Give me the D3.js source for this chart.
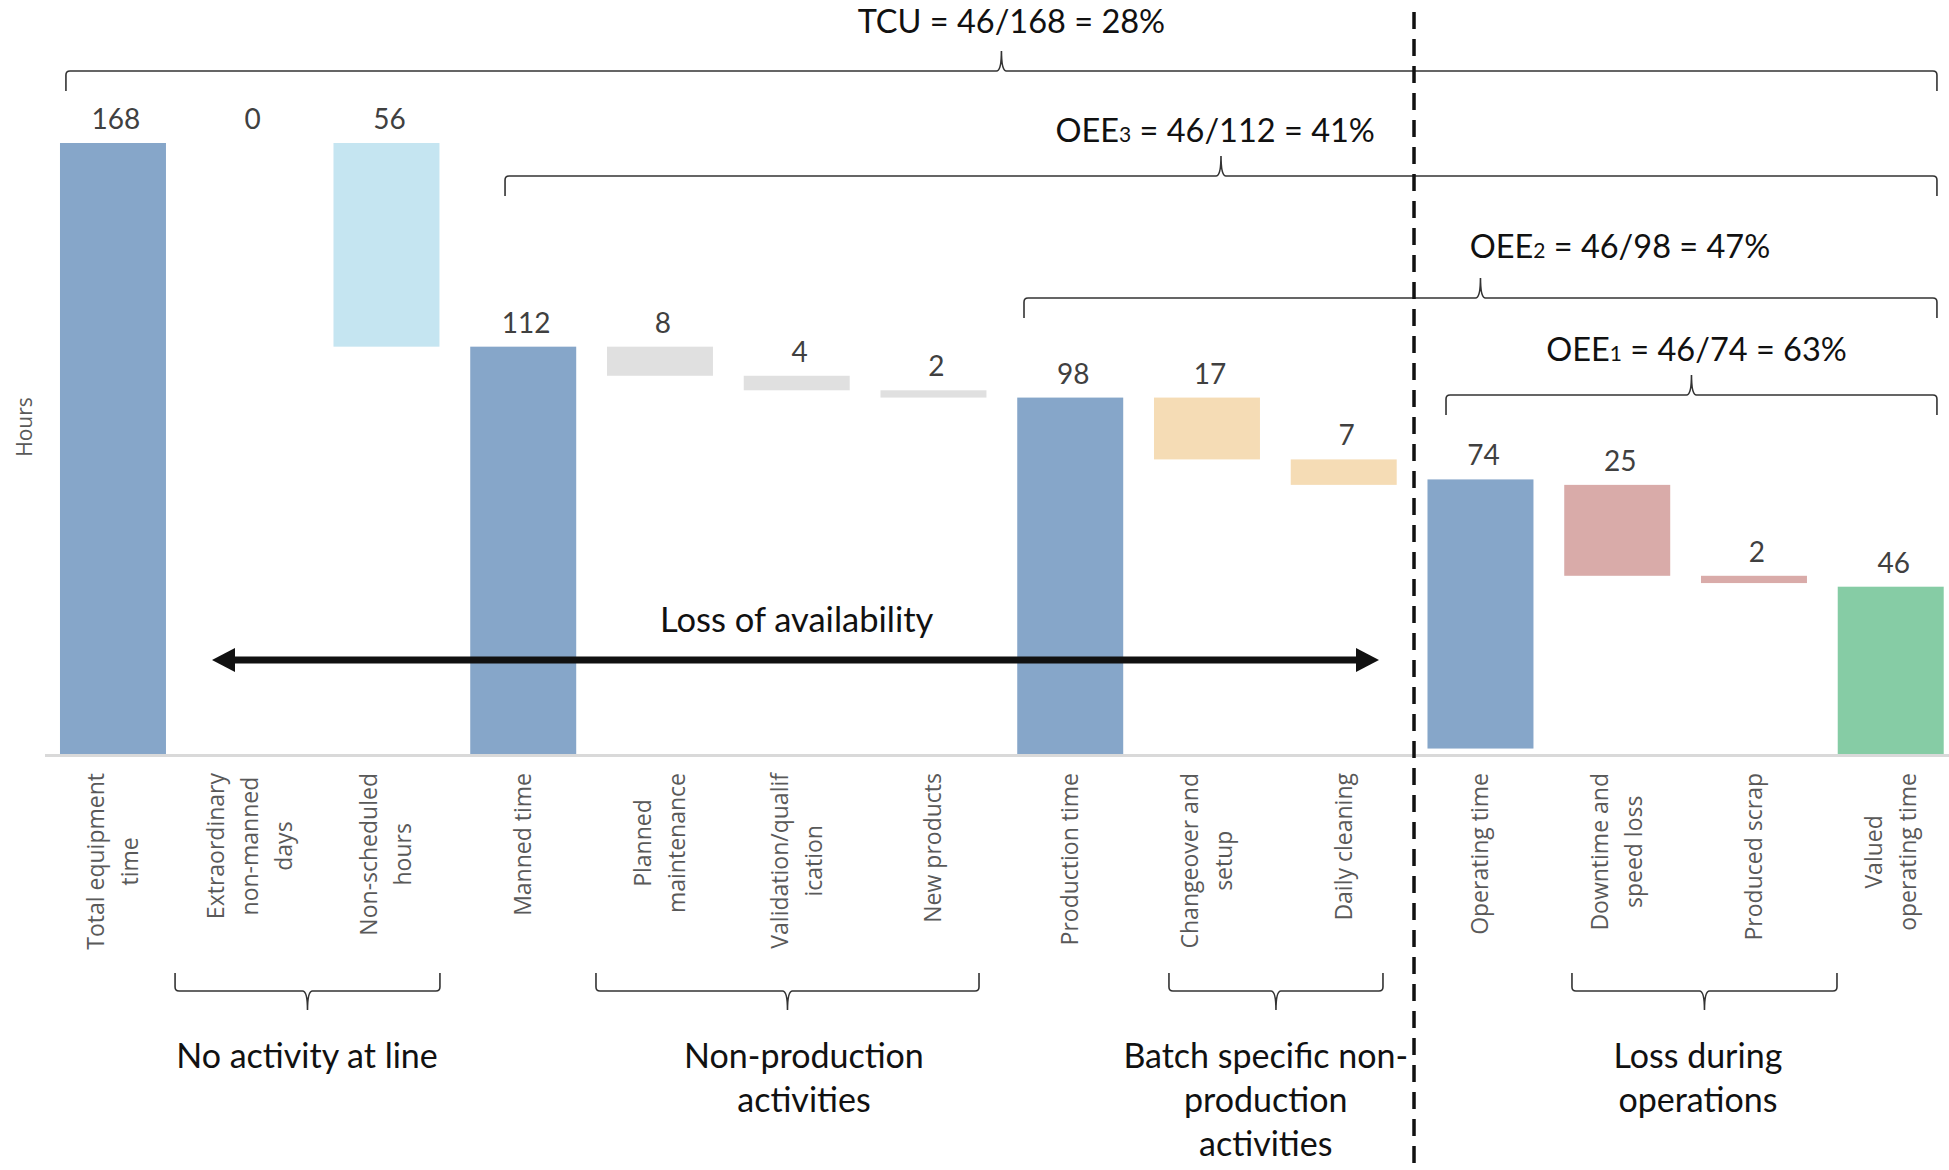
<!DOCTYPE html>
<html>
<head>
<meta charset="utf-8">
<script src="https://cdn.jsdelivr.net/npm/d3@7"></script>
<style>
  body { margin: 0; background: #fff; }
  svg { display: block; }
</style>
</head>
<body>
<svg id="chart" width="1949" height="1170"></svg>
<script>
// ---- data ----
const categories = [
  "Total equipment time", "Extraordinary non-manned days", "Non-scheduled hours",
  "Manned time", "Planned maintenance", "Validation/qualification", "New products",
  "Production time", "Changeover and setup", "Daily cleaning",
  "Operating time", "Downtime and speed loss", "Produced scrap", "Valued operating time"
];
const tickLabels = [
  ["Total equipment", "time"], ["Extraordinary", "non-manned", "days"], ["Non-scheduled", "hours"],
  ["Manned time"], ["Planned", "maintenance"], ["Validation/qualif", "ication"], ["New products"],
  ["Production time"], ["Changeover and", "setup"], ["Daily cleaning"],
  ["Operating time"], ["Downtime and", "speed loss"], ["Produced scrap"], ["Valued", "operating time"]
];
const values = [168, 0, 56, 112, 8, 4, 2, 98, 17, 7, 74, 25, 2, 46];
const barKind = ["total", "loss", "loss", "total", "loss", "loss", "loss", "total", "loss", "loss", "total", "loss", "loss", "total"];
const groups = ["total", "idle", "idle", "total", "nonprod", "nonprod", "nonprod", "total", "batch", "batch", "total", "ops", "ops", "valued"];
// operating time bar sits slightly above the axis in the original
const barBase = [0, 0, 0, 0, 0, 0, 0, 0, 0, 0, 1.5, 0, 0, 0];

const titleMain = ["TCU", "OEE", "OEE", "OEE"];
const titleSub = ["", "3", "2", "1"];
const titleRest = [" = 46/168 = 28%", " = 46/112 = 41%", " = 46/98 = 47%", " = 46/74 = 63%"];

const groupLabels = [
  ["No activity at line"],
  ["Non-production", "activities"],
  ["Batch specific non-", "production", "activities"],
  ["Loss during", "operations"]
];
const arrowLabel = "Loss of availability";
const yTitle = "Hours";

// ---- layout ----
const W = 1949, H = 1170;
const svg = d3.select("#chart");
svg.append("rect").attr("width", W).attr("height", H).attr("fill", "#fff");

const x = d3.scaleBand().domain(categories).range([44.6, 1959.1]).paddingInner(0.225).paddingOuter(0.1125);
// position in "category units" (category i spans [i, i+1])
const pos = d3.scaleLinear().domain([0, 14]).range([44.6, 1959.1]);
const y = d3.scaleLinear().domain([0, 168]).range([754, 143]);

const color = d3.scaleOrdinal()
  .domain(["total", "idle", "nonprod", "batch", "ops", "valued"])
  .range(["#86a6c9", "#c5e5f1", "#e0e0e0", "#f5dcb5", "#d9aba9", "#86cca5"]);

// waterfall
let running = 0;
const bars = categories.map((c, i) => {
  let lo, hi;
  if (barKind[i] === "total") {
    lo = barBase[i]; hi = values[i] + barBase[i]; running = values[i];
  } else {
    hi = running; lo = running - values[i]; running = lo;
  }
  return { cat: c, i, lo, hi, value: values[i], group: groups[i] };
});

const calibri = "Lato, 'Open Sans', sans-serif";
const segoe = "'Open Sans', 'DejaVu Sans', sans-serif";

// axis line
svg.append("line")
  .attr("x1", 45).attr("x2", W).attr("y1", 755.5).attr("y2", 755.5)
  .attr("stroke", "#d9d9d9").attr("stroke-width", 3);

svg.append("g").selectAll("rect").data(bars.filter(d => d.value > 0)).join("rect")
  .attr("x", d => x(d.cat))
  .attr("width", x.bandwidth())
  .attr("y", d => y(d.hi))
  .attr("height", d => y(d.lo) - y(d.hi))
  .attr("fill", d => color(d.group));

svg.append("g").selectAll("text").data(bars).join("text")
  .attr("x", d => x(d.cat) + x.bandwidth() / 2 + 3)
  .attr("y", d => y(d.hi) - 14)
  .attr("text-anchor", "middle")
  .attr("font-family", calibri)
  .attr("font-size", 28)
  .attr("fill", "#404040")
  .text(d => d.value);

// category labels, rotated
const tickTop = 773, lineGap = 34;
categories.forEach((c, i) => {
  const lines = tickLabels[i];
  const cx = x(c) + x.bandwidth() / 2;
  const g = svg.append("g");
  const texts = lines.map((ln, j) => g.append("text")
    .attr("font-family", segoe).attr("font-size", 23).attr("fill", "#595959")
    .attr("text-anchor", "middle").text(ln));
  const maxLen = d3.max(texts, t => t.node().getComputedTextLength());
  const cy = tickTop + maxLen / 2;
  texts.forEach((t, j) => {
    const lx = cx + (j - (lines.length - 1) / 2) * lineGap;
    t.attr("transform", `translate(${lx + 8},${cy}) rotate(-90)`);
  });
});

// y axis title
svg.append("text")
  .attr("transform", "translate(32,427) rotate(-90)")
  .attr("text-anchor", "middle")
  .attr("font-family", segoe).attr("font-size", 21).attr("fill", "#595959")
  .text(yTitle);

// braces
function bracePath(x1, x2, yLine, yEnd, yTip) {
  const xm = (x1 + x2) / 2, r = 5;
  const d1 = Math.sign(yEnd - yLine);
  return `M${x1},${yEnd} L${x1},${yLine + d1 * 4} Q${x1},${yLine} ${x1 + 4},${yLine}` +
    ` L${xm - r},${yLine} Q${xm},${yLine} ${xm},${yTip}` +
    ` Q${xm},${yLine} ${xm + r},${yLine} L${x2 - 4},${yLine} Q${x2},${yLine} ${x2},${yLine + d1 * 4} L${x2},${yEnd}`;
}
const braceG = svg.append("g").attr("fill", "none").attr("stroke", "#333").attr("stroke-width", 1.6);

// top braces: [start, end] in category units, line y
const topBraces = [[0.156, 13.838, 71], [3.367, 13.838, 176], [7.162, 13.838, 298], [10.248, 13.838, 395]];
topBraces.forEach(([a, b, ly]) => {
  braceG.append("path").attr("d", bracePath(pos(a), pos(b), ly, ly + 20, ly - 20));
});
const titleX = [7.07, 8.56, 11.52, 12.08];
const titleY = [33, 142, 258, 361];
titleMain.forEach((t, i) => {
  const txt = svg.append("text")
    .attr("x", pos(titleX[i])).attr("y", titleY[i])
    .attr("text-anchor", "middle")
    .attr("font-family", calibri).attr("font-size", 32.5).attr("fill", "#111");
  txt.append("tspan").text(t);
  if (titleSub[i]) txt.append("tspan").attr("font-size", 21).text(titleSub[i]);
  txt.append("tspan").text(titleRest[i]);
});

// bottom braces
const bottomBraces = [[0.954, 2.891], [4.032, 6.833], [8.222, 9.787], [11.169, 13.107]];
bottomBraces.forEach(([a, b]) => {
  braceG.append("path").attr("d", bracePath(pos(a), pos(b), 991, 973, 1010));
});
const groupX = [1.919, 5.553, 8.93, 12.09];
groupLabels.forEach((lines, i) => {
  lines.forEach((ln, j) => {
    svg.append("text")
      .attr("x", pos(groupX[i])).attr("y", 1068 + j * 44)
      .attr("text-anchor", "middle")
      .attr("font-family", calibri).attr("font-size", 34).attr("fill", "#111")
      .text(ln);
  });
});

// loss of availability arrow
const ay = 660, ax1 = pos(1.224), ax2 = pos(9.758);
svg.append("line").attr("x1", ax1 + 20).attr("x2", ax2 - 20).attr("y1", ay).attr("y2", ay)
  .attr("stroke", "#111").attr("stroke-width", 7);
svg.append("path").attr("d", `M${ax1},${ay} L${ax1 + 23},${ay - 12} L${ax1 + 23},${ay + 12} Z`).attr("fill", "#111");
svg.append("path").attr("d", `M${ax2},${ay} L${ax2 - 23},${ay - 12} L${ax2 - 23},${ay + 12} Z`).attr("fill", "#111");
svg.append("text")
  .attr("x", pos(5.5)).attr("y", 632)
  .attr("text-anchor", "middle")
  .attr("font-family", calibri).attr("font-size", 34.5).attr("fill", "#111")
  .text(arrowLabel);

// dashed separator between batch and operating stages
svg.append("line")
  .attr("x1", pos(10.014)).attr("x2", pos(10.014)).attr("y1", 12).attr("y2", H)
  .attr("stroke", "#111").attr("stroke-width", 3.5).attr("stroke-dasharray", "17,10");
</script>
</body>
</html>
